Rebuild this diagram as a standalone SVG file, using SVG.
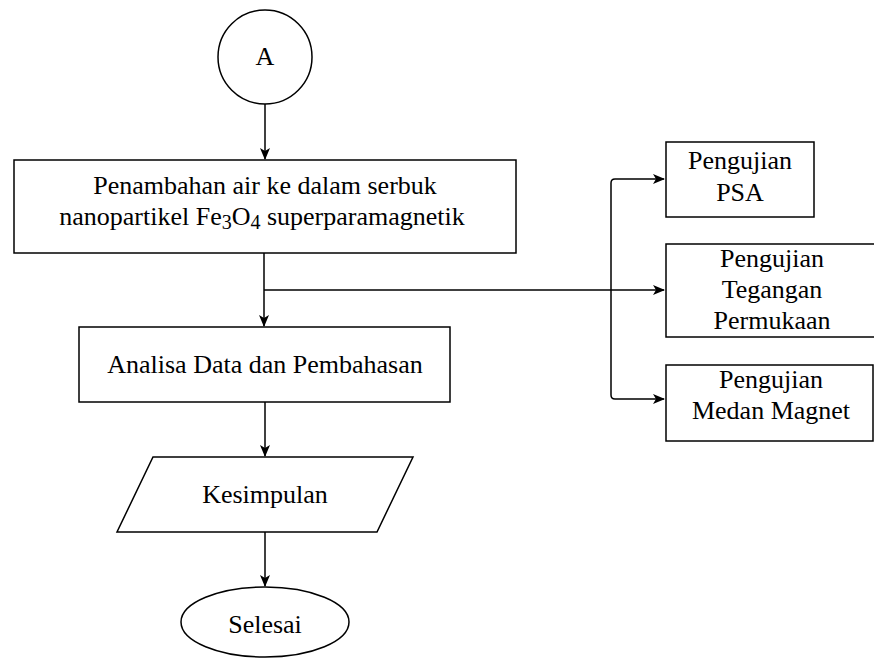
<svg xmlns="http://www.w3.org/2000/svg" width="874" height="658" viewBox="0 0 874 658">
<style>
.s{fill:#fff;stroke:#000;stroke-width:1.5}
.t{font-family:"Liberation Serif","Times New Roman",serif;font-size:26px;fill:#000;text-anchor:middle}
.c{fill:none;stroke:#000;stroke-width:1.5}
</style>
<defs>
<marker id="ar" viewBox="0 0 12 10" refX="11" refY="5" markerWidth="12" markerHeight="10" markerUnits="userSpaceOnUse" orient="auto">
<path d="M0,0 L12,5 L0,10 L3,5 Z" fill="#000"/>
</marker>
</defs>
<rect width="874" height="658" fill="#fff"/>
<g id="connectors">
<path class="c" d="M265,104 V159" marker-end="url(#ar)"/>
<path class="c" d="M264,253 V326" marker-end="url(#ar)"/>
<path class="c" d="M264,290 H664" marker-end="url(#ar)"/>
<path class="c" d="M611,290 V183 Q611,179 615,179 H664" marker-end="url(#ar)"/>
<path class="c" d="M611,290 V395 Q611,399 615,399 H664" marker-end="url(#ar)"/>
<path class="c" d="M265,402 V456" marker-end="url(#ar)"/>
<path class="c" d="M265,532 V586" marker-end="url(#ar)"/>
</g>
<g id="nodeA">
<circle class="s" cx="265" cy="57" r="47"/>
<text class="t" x="265" y="65">A</text>
</g>
<g id="nodePenambahan">
<rect class="s" x="14" y="160" width="502" height="93"/>
<text class="t" x="265" y="194">Penambahan air ke dalam serbuk</text>
<text class="t" x="262" y="225">nanopartikel Fe<tspan font-size="20" dy="4">3</tspan><tspan dy="-4">O</tspan><tspan font-size="20" dy="4">4</tspan><tspan dy="-4"> superparamagnetik</tspan></text>
</g>
<g id="nodePSA">
<rect class="s" x="666" y="142" width="148" height="75"/>
<text class="t" x="740" y="169">Pengujian</text>
<text class="t" x="740" y="201">PSA</text>
</g>
<g id="nodeTegangan">
<rect class="s" x="666" y="244" width="215" height="93"/>
<text class="t" x="772" y="267">Pengujian</text>
<text class="t" x="772" y="298">Tegangan</text>
<text class="t" x="772" y="329">Permukaan</text>
</g>
<g id="nodeMedan">
<rect class="s" x="666" y="365" width="207" height="76"/>
<text class="t" x="771" y="388">Pengujian</text>
<text class="t" x="771" y="419">Medan Magnet</text>
</g>
<g id="nodeAnalisa">
<rect class="s" x="79" y="327" width="371" height="75"/>
<text class="t" x="265" y="373">Analisa Data dan Pembahasan</text>
</g>
<g id="nodeKesimpulan">
<polygon class="s" points="153,457 413,457 377,532 117,532"/>
<text class="t" x="265" y="503">Kesimpulan</text>
</g>
<g id="nodeSelesai">
<ellipse class="s" cx="265" cy="622" rx="84" ry="35"/>
<text class="t" x="265" y="633">Selesai</text>
</g>
</svg>
